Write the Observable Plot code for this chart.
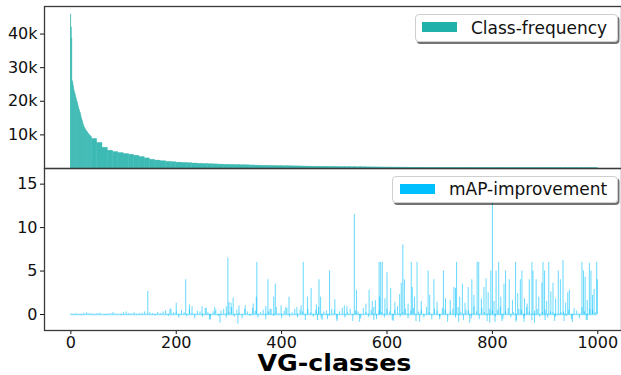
<!DOCTYPE html>
<html>
<head>
<meta charset="utf-8">
<script src="https://cdn.jsdelivr.net/npm/d3@7"></script>
<script src="https://cdn.jsdelivr.net/npm/@observablehq/plot@0.6"></script>
<style>
  html, body { margin: 0; padding: 0; background: #fff; overflow: hidden; }
  #wrap { position: relative; width: 621px; height: 375px; overflow: hidden; font-family: "DejaVu Sans", sans-serif; }
  #topPanel, #bottomPanel { position: absolute; left: 0; }
  #topPanel { top: 0; }
  #bottomPanel { top: 168px; }
  .legend { position: absolute; background: rgba(255,255,255,0.92); border: 1px solid #cfcfcf; border-radius: 4px;
            box-shadow: 1.5px 2px 0 rgba(0,0,0,0.55); box-sizing: border-box; font-size: 17px; color: #111; }
  .legend .patch { position: absolute; width: 35px; height: 10px; }
  .legend .lab { position: absolute; white-space: nowrap; line-height: 1; }
  #xlabel { position: absolute; top: 352px; left: 0; width: 608px; height: 23px; line-height: 1; text-align: center;
            font-weight: bold; font-size: 23px; color: #000; transform: scaleX(1.1); transform-origin: 0 0; }
</style>
</head>
<body>
<div id="wrap">
  <div id="topPanel"></div>
  <div id="bottomPanel"></div>
  <div class="legend" style="left:415px; top:14px; width:203px; height:28px;">
    <div class="patch" style="left:6px; top:7px; background:#20b2aa;"></div>
    <div class="lab" style="left:55px; top:5px;">Class-frequency</div>
  </div>
  <div class="legend" style="left:392px; top:176px; width:226px; height:27px;">
    <div class="patch" style="left:7px; top:7px; background:#00bfff;"></div>
    <div class="lab" style="left:56px; top:4px;">mAP-improvement</div>
  </div>
  <div id="xlabel">VG-classes</div>
</div>
<script>
// ---- Class frequency (thousands of instances), sorted descending ----
// individual classes 0..39
const freqHeadValues = [45.8, 42.0, 38.6, 26.0, 25.4, 24.5, 23.5, 22.8, 22.3, 21.7,
  21.0, 20.4, 19.8, 19.3, 18.6, 18.0, 17.5, 17.0, 16.6, 16.0,
  15.2, 14.6, 14.1, 13.5, 13.0, 12.5, 12.2, 11.9, 11.6, 11.3,
  11.0, 10.8, 10.6, 10.4, 10.2, 10.0, 9.8, 9.7, 9.5, 9.3];
// blocks of 10 classes, starting at class 40
const freqBlockStart = 40;
const freqBlockSize = 10;
const freqBlockValues = [8.8, 7.6, 6.2, 5.3, 4.9, 4.6, 4.3, 4.1, 3.8, 3.4,
  3.0, 2.6, 2.35, 2.15, 1.98, 1.86, 1.75, 1.65, 1.56, 1.48,
  1.40, 1.33, 1.27, 1.21, 1.16, 1.11, 1.06, 1.02, 0.98, 0.94,
  0.90, 0.86, 0.82, 0.78, 0.75, 0.72, 0.69, 0.66, 0.63, 0.61,
  0.58, 0.56, 0.54, 0.52, 0.50, 0.48, 0.46, 0.44, 0.42, 0.40,
  0.38, 0.36, 0.34, 0.32, 0.31, 0.30, 0.29, 0.28, 0.27, 0.26,
  0.25, 0.24, 0.235, 0.23, 0.225, 0.22, 0.215, 0.21, 0.205, 0.20,
  0.195, 0.19, 0.185, 0.18, 0.175, 0.17, 0.165, 0.16, 0.158, 0.155,
  0.152, 0.15, 0.148, 0.145, 0.142, 0.14, 0.138, 0.135, 0.132, 0.13,
  0.128, 0.125, 0.122, 0.12, 0.118, 0.115];
const freqTicks = [10, 20, 30, 40];

// ---- mAP improvement ----
// low-level values, one every 5 classes (class 0, 5, 10, ...)
const noiseStep = 5;
const noiseValues = [
  0.05,-0.05,0.1,0.0,-0.1,0.15,0.2,0.1,0.05,-0.05,0.1,0.15,0.0,-0.1,0.05,0.1,0.25,0.05,0.0,-0.1,
  0.2,0.3,0.1,0.05,0.2,-0.1,0.1,0.15,0.3,0.05,0.2,0.1,-0.15,0.25,0.1,0.3,0.45,-0.2,0.6,0.2,
  0.3,-0.4,0.5,0.2,-0.2,0.6,0.1,-0.5,0.4,0.3,-0.3,0.7,0.2,-0.6,0.3,0.5,-0.2,0.4,0.6,-0.4,
  0.2,0.8,-0.3,0.5,0.1,-0.5,0.6,0.3,-0.2,0.7,0.4,-0.4,0.2,0.5,-0.6,0.3,0.6,-0.2,0.8,0.1,
  -0.5,0.4,0.7,-0.3,0.2,0.6,-0.4,0.5,0.3,-0.7,0.6,0.2,-0.3,0.5,0.8,-0.5,0.3,0.4,-0.2,0.6,
  0.5,-0.6,0.3,0.7,-0.4,0.2,0.6,-0.8,0.4,0.3,-0.5,0.7,0.2,-0.3,0.5,0.8,-0.6,0.4,0.2,-0.4,
  0.6,0.3,-0.7,0.5,0.9,-0.3,0.2,0.6,-0.5,0.4,0.7,-0.8,0.3,0.5,-0.4,0.8,0.2,-0.6,0.6,0.4,
  -0.3,0.7,0.5,-0.9,0.3,0.6,-0.4,0.8,0.2,-0.7,0.5,0.4,-0.5,0.9,0.3,-0.6,0.7,0.2,-0.8,0.6,
  0.4,-0.3,0.5,0.8,-0.6,0.3,0.7,-0.4,0.2,-0.9,0.6,0.5,-0.5,0.8,0.3,-0.7,0.4,0.6,-0.3,0.2,
  0.5,-0.4,0.3,0.2,-0.3,0.1,0.2,0.3,-0.2,0.5,-0.6,0.7,0.4,-0.5,0.8,0.3,-0.7,0.6,0.5,0.2];
// prominent spikes / dips: class index and value
const spikeClasses = [146,188,200,218,225,230,249,257,263,273,283,295,298,300,304,308,317,319,331,346,
  352,353,370,374,378,385,388,399,408,414,429,437,441,449,456,466,468,471,474,477,
  487,491,501,505,519,524,538,542,548,560,566,572,575,578,585,586,588,591,596,600,
  607,612,615,624,627,630,633,640,646,648,652,657,662,665,678,681,689,695,700,707,
  711,720,727,730,732,736,738,743,748,754,757,761,765,771,774,779,784,788,792,795,
  797,800,803,805,807,812,816,818,822,825,832,838,844,845,848,853,856,860,861,866,
  870,875,877,880,883,888,894,896,899,900,903,907,911,915,918,920,925,929,934,936,
  939,943,946,952,970,973,976,978,980,984,987,990,993,998,999];
const spikeValues = [2.65,0.6,1.3,4.0,1.1,0.9,0.9,0.7,-0.65,0.8,-1.0,0.9,6.5,1.4,1.3,1.9,-1.1,1.0,1.0,1.2,
  2.0,6.0,0.9,4.0,0.6,2.0,3.5,1.0,0.8,2.0,0.8,1.0,6.0,2.0,3.0,1.1,-0.7,4.0,2.0,-0.7,
  -0.6,5.0,1.7,-0.8,1.0,0.9,11.5,2.8,-0.9,1.2,2.8,1.5,-0.7,1.6,6.0,2.0,6.0,6.0,1.8,4.8,
  3.0,-0.8,1.4,2.3,3.6,8.0,4.0,1.2,6.0,3.1,2.0,6.0,-0.9,1.5,5.0,2.2,4.0,1.4,-0.6,5.0,
  1.8,1.6,3.1,3.0,6.0,-0.9,2.0,3.5,1.3,3.1,-1.0,4.0,2.2,6.0,6.0,1.8,3.1,4.1,2.5,-1.0,
  5.0,12.8,1.5,-0.9,5.0,6.0,2.0,-0.8,3.5,5.0,4.0,1.6,6.0,-0.7,2.4,4.0,5.0,-0.9,1.8,1.2,
  4.0,6.0,5.0,-1.0,4.0,2.0,3.6,6.0,5.0,-0.7,1.5,6.0,2.6,3.6,-0.8,1.8,5.0,4.0,6.2,-0.8,
  1.3,2.5,2.8,-0.9,6.0,5.0,4.3,-0.7,1.6,5.9,5.0,2.2,2.9,6.0,4.0];
const mapTicks = [0, 5, 10, 15];
const xTicks = [0, 200, 400, 600, 800, 1000];

// ---- build tables ----
const freqData = [];
freqHeadValues.forEach((v, i) => freqData.push({x1: i, x2: i + 1, v}));
freqBlockValues.forEach((v, j) => {
  const s = freqBlockStart + j * freqBlockSize;
  freqData.push({x1: s, x2: Math.min(s + freqBlockSize, 1000), v});
});
const mapData = noiseValues.map((v, i) => ({c: i * noiseStep, v}))
  .concat(spikeClasses.map((c, i) => ({c, v: spikeValues[i]})));
const classExtent = d3.extent(mapData, d => d.c);

const xDomain = [-50, 1045];
const baseStyle = {fontFamily: "DejaVu Sans, sans-serif", fontSize: "16px", color: "#111", background: "transparent", overflow: "visible"};

const topChart = Plot.plot({
  width: 621, height: 169,
  marginTop: 6, marginBottom: 1, marginLeft: 44, marginRight: 0,
  style: baseStyle,
  x: {domain: xDomain, axis: null},
  y: {domain: [0, 48.2], ticks: freqTicks, tickFormat: d => d + "k", tickSize: 4, tickPadding: 3, label: null},
  marks: [
    Plot.rectY(freqData, {x1: "x1", x2: "x2", y: "v", fill: "#3dbab3", stroke: "#3dbab3", strokeWidth: 0.4, inset: 0}),
    Plot.frame({stroke: "#3a3a3a", strokeWidth: 1.3})
  ]
});
document.getElementById("topPanel").appendChild(topChart);

const bottomChart = Plot.plot({
  width: 621, height: 207,
  marginTop: 0, marginBottom: 45, marginLeft: 44, marginRight: 0,
  style: baseStyle,
  x: {domain: xDomain, ticks: xTicks, tickFormat: d => String(d), tickSize: 4, tickPadding: 2, label: null},
  y: {domain: [-1.84, 16.8], ticks: mapTicks, tickSize: 4, tickPadding: 3, label: null},
  marks: [
    Plot.ruleY([0], {x1: classExtent[0], x2: classExtent[1], stroke: "#00bfff", strokeOpacity: 0.45, strokeWidth: 1.5}),
    Plot.ruleX(mapData, {x: "c", y1: 0, y2: "v", stroke: "#00bfff", strokeOpacity: 0.6, strokeWidth: 1}),
    Plot.frame({stroke: "#3a3a3a", strokeWidth: 1.3})
  ]
});
document.getElementById("bottomPanel").appendChild(bottomChart);
</script>
</body>
</html>
